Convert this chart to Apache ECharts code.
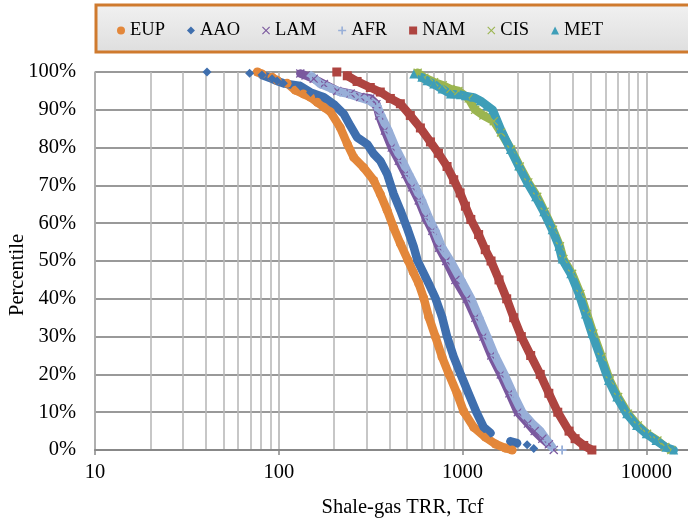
<!DOCTYPE html>
<html>
<head>
<meta charset="utf-8">
<script src="https://cdn.jsdelivr.net/npm/echarts@6/dist/echarts.min.js"></script>
<style>
html, body { margin: 0; padding: 0; background: #fff; }
#chart { width: 688px; height: 520px; }
</style>
</head>
<body>
<div id="chart"></div>
<script>
// values as [TRR (Tcf), percentile %]
// every region is a list of runs, a run is drawn as one connected band
const eup = [
  [[76.5, 100], [81, 99.5]],
  [[92, 98.6], [98, 97.8]],
  [[111, 97], [123, 95.2], [136, 94.2], [149, 93.3], [162, 92], [176, 90.7], [191, 89.5], [216, 85.3],
   [236, 81], [256, 77.4], [290, 74.7], [329, 71.3], [357, 67.7], [389, 63.4], [422, 58.8], [459, 54.6],
   [505, 50.2], [540, 47], [578, 44], [615, 40.2], [655, 35.2], [712, 30], [774, 24.6], [841, 20.2],
   [935, 14.9], [1015, 10.2], [1151, 6], [1332, 3.4], [1510, 1.6], [1712, 0.5], [1862, 0]]
]
const aao = [
  [[40.7, 100]],
  [[69.4, 99.7]],
  [[81, 99.2], [92, 98.2], [98, 97.6], [106, 97], [131, 96.3], [149, 94.6], [176, 93.3], [199, 91.5],
   [226, 88.9], [245, 85.8], [267, 82.7], [303, 80.9], [329, 78.3], [357, 76.5], [389, 73], [422, 67.7],
   [459, 63.4], [499, 58.8], [543, 53.7], [570, 50], [655, 44], [712, 40.2], [774, 35.2], [824, 30],
   [896, 24.6], [974, 20.2], [1080, 14.9], [1190, 10], [1305, 6], [1420, 4.5]],
  [[1823, 2.3], [1982, 1.8]],
  [[2247, 1.4]],
  [[2442, 0.4]]
]
const lam = [
  [[131, 99.6], [140, 99.1], [155, 98.2], [176, 96.8], [208, 95], [246, 94.3], [278, 93.4], [315, 93],
   [340, 91.5], [352, 88.5], [378, 84.5], [412, 80], [450, 76.5], [490, 73], [532, 69.5], [578, 66],
   [630, 61.5], [685, 58], [745, 53.5], [815, 50], [915, 45], [1055, 40], [1175, 35], [1300, 30],
   [1435, 25], [1615, 20], [1800, 15], [2000, 10], [2270, 7], [2470, 5], [2720, 3], [2950, 1.5]],
  [[3137, 0]]
]
const afr = [
  [[150, 99], [168, 96.9], [190, 95.8], [216, 94.7], [240, 94.2], [275, 93.3], [310, 92.5], [343, 91],
   [360, 88.5], [395, 84.5], [432, 80], [470, 76.5], [510, 73], [555, 69.5], [600, 66], [655, 61.5],
   [710, 58], [775, 53.5], [860, 50], [980, 45], [1114, 40], [1230, 35], [1361, 30], [1500, 25],
   [1690, 20], [1880, 15], [2111, 10], [2400, 7], [2655, 5], [2887, 2.5], [3074, 0.7]],
  [[3484, 0]]
]
const nam = [
  [[207, 100]],
  [[236, 99], [267, 97.5], [315, 95.9], [357, 94.7], [405, 93], [459, 91.6], [520, 88.5], [590, 85.2],
   [669, 81.5], [740, 78.5], [824, 75], [896, 71.5], [970, 68], [1037, 64.5], [1110, 61], [1224, 57],
   [1330, 53], [1430, 50], [1580, 45], [1740, 40], [1900, 35], [2090, 30], [2350, 25], [2650, 20],
   [2950, 15], [3300, 10], [3800, 5], [4100, 3], [4570, 1.2], [5060, 0]]
]
const cis = [
  [[570, 99.8], [620, 98.5], [700, 97.3], [780, 96.5], [860, 95.5], [950, 95], [1080, 93], [1172, 90],
   [1300, 88.5], [1480, 87], [1620, 84], [1840, 79.5], [2050, 75], [2280, 70.8], [2550, 67], [2800, 63],
   [3110, 58.3], [3390, 53.9], [3540, 50.5], [3950, 46.6], [4380, 41.3], [4750, 36], [5150, 30.8],
   [5720, 24.6], [6330, 18.4], [7030, 14], [7950, 9.6], [9000, 6.5], [10100, 4.3], [11500, 2.5],
   [12700, 0.8], [13700, 0]]
]
const met = [
  [[543, 99.5]],
  [[600, 98.6], [641, 97.7], [697, 96.8], [774, 95.5], [860, 94.2], [974, 94], [1037, 93.7], [1151, 93.3],
   [1252, 92.4], [1361, 91.1], [1460, 90], [1608, 85], [1823, 79.5], [2022, 75.1], [2247, 70.8], [2500, 67],
   [2767, 63], [3074, 58.3], [3347, 53.9], [3484, 50.5], [3882, 46.6], [4301, 41.3], [4668, 36], [5060, 30.8],
   [5625, 24.6], [6233, 18.4], [6917, 14], [7826, 9.6], [8860, 6.5], [10000, 4.3], [11300, 2.5],
   [12800, 0.7], [14100, 0]]
]

const names = ['EUP', 'AAO', 'LAM', 'AFR', 'NAM', 'CIS', 'MET']
const regions = [eup, aao, lam, afr, nam, cis, met]
const colors = ['#E3873A', '#3F6FAE', '#7A589E', '#98AFD8', '#AE4440', '#9BB550', '#3E9EB8']

const crossIcon = 'path://M0,1L1,0L5,4L9,0L10,1L6,5L10,9L9,10L5,6L1,10L0,9L4,5Z'
const plusIcon = 'path://M4,0H6V4H10V6H6V10H4V6H0V4H4Z'
const symbols = ['circle', 'diamond', crossIcon, plusIcon, 'rect', crossIcon, 'triangle']

// put a gap between runs so the line breaks there
function joinRuns (runs) {
  let out = []
  runs.forEach((run, i) => {
    if (i > 0) out.push([null, null])
    out = out.concat(run)
  })
  return out
}

const font = 'Liberation Serif'
let myChart = echarts.init(document.getElementById('chart'))

let option = {
  animation: false,
  textStyle: { fontFamily: font, color: '#000' },
  graphic: [{
    type: 'rect',
    z: 0,
    shape: { x: 96, y: 5, width: 640, height: 47 },
    style: {
      fill: new echarts.graphic.LinearGradient(0, 0, 0, 1, [
        { offset: 0, color: '#f1f1f1' },
        { offset: 1, color: '#dedede' }
      ]),
      stroke: '#CF7A2E',
      lineWidth: 3
    }
  }],
  legend: {
    left: 117,
    top: 21,
    itemWidth: 8,
    itemHeight: 8,
    itemGap: 22,
    padding: 0,
    data: names.map((n, i) => ({ name: n, icon: symbols[i] })),
    textStyle: { fontFamily: font, fontSize: 18.5, color: '#000' }
  },
  // the plot runs on past the right edge, as in the cropped original
  grid: { left: 95, top: 72, width: 735, height: 378, outerBoundsMode: 'none', containLabel: false },
  xAxis: {
    type: 'log',
    logBase: 10,
    min: 10,
    max: 100000,
    name: 'Shale-gas TRR, Tcf',
    nameLocation: 'middle',
    nameGap: 47,
    nameMoveOverlap: false,
    nameTextStyle: { fontFamily: font, fontSize: 20.5, color: '#000', padding: [0, 120, 0, 0] },
    axisLine: { lineStyle: { color: '#888', width: 2 } },
    axisTick: { show: true, length: 5, lineStyle: { color: '#888', width: 1.5 } },
    axisLabel: { fontFamily: font, fontSize: 20.5, color: '#000', margin: 12, formatter: v => String(v) },
    splitLine: { show: true, lineStyle: { color: '#b3b3b3', width: 1.6 } },
    minorTick: { show: false, splitNumber: 9 },
    minorSplitLine: { show: true, lineStyle: { color: '#b9b9b9', width: 1.6 } }
  },
  yAxis: {
    type: 'value',
    min: 0,
    max: 100,
    interval: 10,
    name: 'Percentile',
    nameLocation: 'middle',
    nameGap: 67,
    nameMoveOverlap: false,
    nameTextStyle: { fontFamily: font, fontSize: 20.5, color: '#000', padding: [0, 28, 0, 0] },
    axisLine: { show: true, lineStyle: { color: '#aaa', width: 1.6 } },
    axisTick: { show: false },
    axisLabel: { fontFamily: font, fontSize: 20.5, color: '#000', margin: 19, formatter: '{value}%' },
    splitLine: { show: true, lineStyle: { color: '#999', width: 2 } }
  },
  series: names.map((n, i) => ({
    name: n,
    type: 'line',
    data: joinRuns(regions[i]),
    symbol: symbols[i],
    symbolSize: 9,
    showSymbol: true,
    connectNulls: false,
    color: colors[i],
    lineStyle: { width: 8.5, cap: 'round', join: 'round' }
  }))
}
myChart.setOption(option)
</script>
</body>
</html>
